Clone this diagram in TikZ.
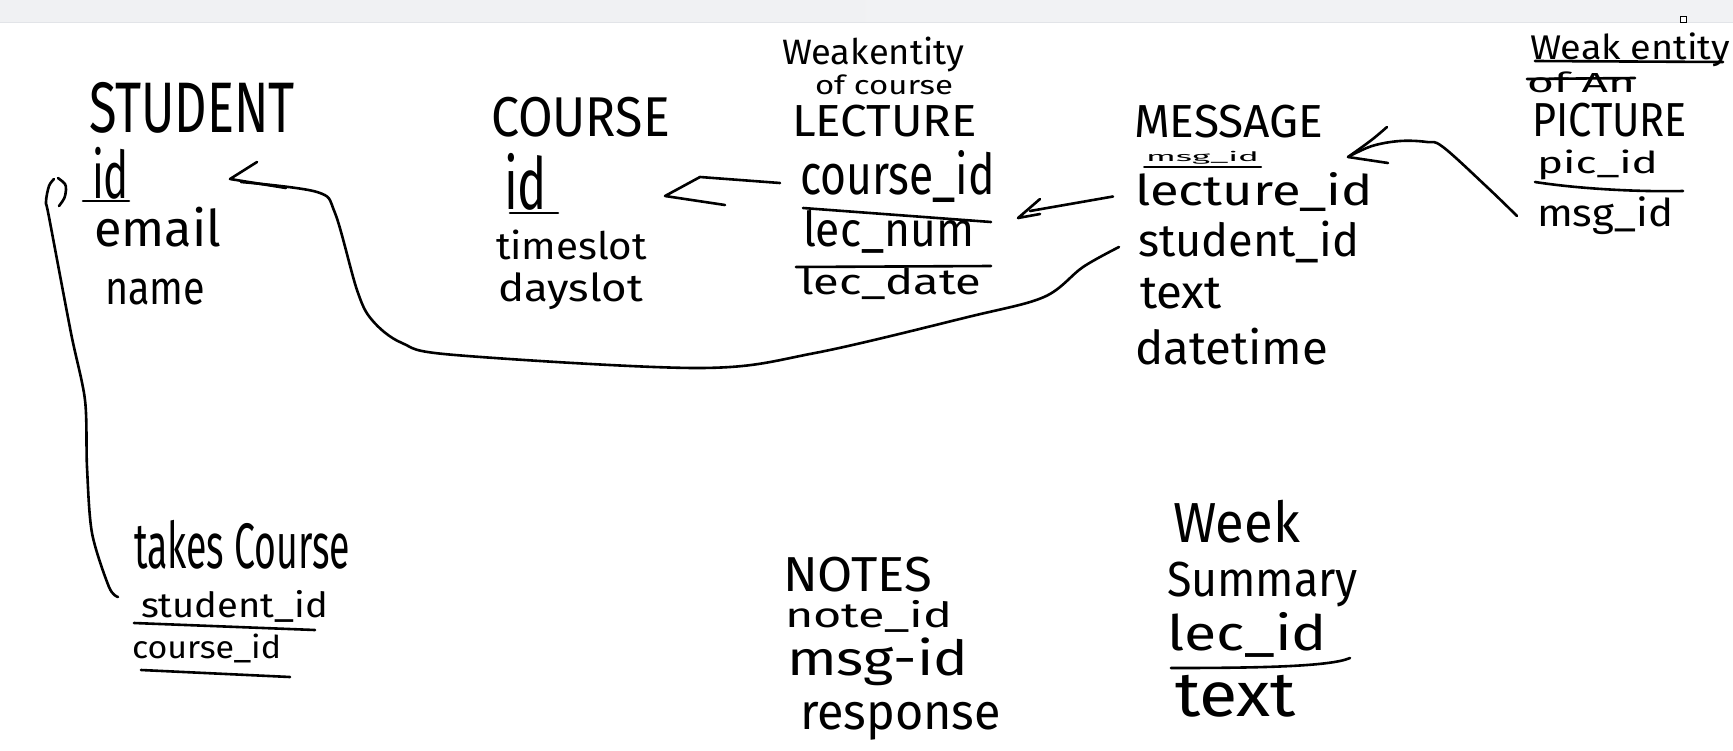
\documentclass[tikz,border=0pt]{standalone}
\usepackage{fontspec}
\usepackage{graphicx}
\usetikzlibrary{calc}
\newfontfamily\hand{Fira Sans}
\newcommand\hw[3]{\resizebox*{#1pt}{#2pt}{\hand #3}}
\definecolor{stripL}{HTML}{F0F1F3}
\definecolor{stripM}{HTML}{ECF1F8}
\definecolor{stripR}{HTML}{F1F2F4}
\definecolor{stripB}{HTML}{E2E4E8}
\tikzset{
  pen/.style={line width=2.6pt, line cap=round, line join=round, black},
  lbl/.style={inner sep=0pt, outer sep=0pt, anchor=north west},
}
\begin{document}
\begin{tikzpicture}[x=1pt,y=-1pt]
\useasboundingbox (0,0) rectangle (1733,750);
\fill[white] (0,0) rectangle (1733,750);
\shade[left color=stripL, middle color=stripM, right color=stripR] (0,0) rectangle (1733,22);
\draw[stripB, line width=1pt] (0,22) -- (1733,22);
\draw[black, fill=white, line width=0.8pt] (1680,16) rectangle (1686,22);

% STUDENT
\node[lbl] (stu) at (89,82) {\hw{206}{51}{STUDENT}};
\node[lbl] (stuid) at (92,147) {\hw{37}{52}{id}};
\node[lbl] (email) at (94,207) {\hw{127}{40}{email}};
\node[lbl] (name) at (105,279) {\hw{100}{26}{name}};
\draw[pen] (83,201) -- (129,201);

% COURSE
\node[lbl] (course) at (491,97) {\hw{179}{40}{COURSE}};
\node[lbl] (crsid) at (504,153) {\hw{43}{57}{id}};
\node[lbl] (timeslot) at (496,230) {\hw{151}{30}{timeslot}};
\node[lbl] (dayslot) at (498,273) {\hw{145}{37}{dayslot}};
\draw[pen] (510,213) -- (558,213);

% LECTURE
\node[lbl] (weak1) at (782,37) {\hw{182}{35}{Weakentity}};
\node[lbl] (ofcourse) at (815,75) {\hw{138}{20}{of course}};
\node[lbl] (lecture) at (792,105) {\hw{185}{32}{LECTURE}};
\node[lbl] (lcid) at (800,150) {\hw{195}{52}{course\_id}};
\node[lbl] (lecnum) at (803,210) {\hw{171}{43}{lec\_num}};
\node[lbl] (lecdate) at (800,268) {\hw{181}{32}{lec\_date}};
\draw[pen] (803,208) -- (991,222);
\draw[pen] (796,267) -- (991,266);

% MESSAGE
\node[lbl] (message) at (1134,105) {\hw{189}{33}{MESSAGE}};
\node[lbl] (msgid) at (1146,151) {\hw{113}{13}{msg\_id}};
\node[lbl] (lectureid) at (1135,172) {\hw{238}{39}{lecture\_id}};
\node[lbl] (studentid) at (1138,221) {\hw{221}{42}{student\_id}};
\node[lbl] (mtext) at (1140,278) {\hw{82}{31}{text}};
\node[lbl] (datetime) at (1135,328) {\hw{193}{37}{datetime}};
\draw[pen, line width=2pt] (1144,167) -- (1261,167);

% PICTURE
\node[lbl] (weak2) at (1530,33) {\hw{200}{34}{Weak entity}};
\node[lbl] (ofan) at (1527,72) {\hw{108}{21}{of An}};
\node[lbl] (picture) at (1532,103) {\hw{155}{34}{PICTURE}};
\node[lbl] (picid) at (1537,150) {\hw{121}{30}{pic\_id}};
\node[lbl] (pmsgid) at (1537,197) {\hw{136}{38}{msg\_id}};
\draw[pen] (1535,61) -- (1723,62);
\draw[pen] (1527,79) -- (1635,78);
\draw[pen] (1535,182) .. controls (1580,189) and (1640,192) .. (1683,191);

% takes Course
\node[lbl] (takes) at (134,520) {\hw{216}{49}{takes Course}};
\node[lbl] (tsid) at (141,590) {\hw{187}{32}{student\_id}};
\node[lbl] (tcid) at (132,634) {\hw{149}{29}{course\_id}};
\draw[pen] (134,623) -- (315,630);
\draw[pen] (141,670) -- (290,677);

% NOTES
\node[lbl] (notes) at (783,557) {\hw{149}{35}{NOTES}};
\node[lbl] (noteid) at (785,600) {\hw{167}{32}{note\_id}};
\node[lbl] (nmsgid) at (787,638) {\hw{181}{48}{msg-id}};
\node[lbl] (response) at (800,702) {\hw{201}{38}{response}};

% Week Summary
\node[lbl] (week) at (1173,500) {\hw{127}{43}{Week}};
\node[lbl] (summary) at (1167,562) {\hw{191}{45}{Summary}};
\node[lbl] (lecid) at (1167,612) {\hw{160}{45}{lec\_id}};
\node[lbl] (stext) at (1175,675) {\hw{121}{42}{text}};
\draw[pen] (1171,668) .. controls (1250,668) and (1330,667) .. (1350,658);

% connector: MESSAGE.student_id -> STUDENT.id
\coordinate (A0) at ($(studentid.west)+(-19,5)$);
\coordinate (tipA) at ($(stuid.east)+(101,6)$);
\draw[pen] plot[smooth, tension=0.55] coordinates {(A0) (1083,267) (1044,297) (968,317) (815,353) (700,368) (455,355) (402,343) (372,320) (357,290) (335,213) (317,192) (241,182)};
\draw[pen] (257,162) -- (tipA) -- (286,188);

% connector: LECTURE.course_id -> COURSE.id
\coordinate (B0) at ($(lcid.west)+(-20,7)$);
\coordinate (tipB) at ($(crsid.east)+(118,14.5)$);
\draw[pen] (B0) -- (700,177) -- (tipB) -- (725,205);

% connector: MESSAGE.lecture_id -> LECTURE
\coordinate (C0) at ($(lectureid.west)+(-22,5)$);
\coordinate (tipC) at ($(lcid.south east)+(23,16)$);
\draw[pen] (C0) -- (1030,211);
\draw[pen] (1040,199) -- (tipC) -- (1040,214);

% connector: PICTURE.msg_id -> MESSAGE
\coordinate (D0) at ($(pmsgid.west)+(-20,0)$);
\coordinate (tipD) at ($(lectureid.north east)+(-25,-15)$);
\draw[pen] plot[smooth, tension=0.6] coordinates {(D0) (1487,187) (1443,147) (1427,142) (1400,141) (1372,146) (tipD)};
\draw[pen] (1387,127) .. controls (1372,140) .. (tipD) -- (1388,163);

% connector: takes Course.student_id -> STUDENT.id
\coordinate (E0) at ($(tsid.west)+(-23,-9)$);
\coordinate (tipE) at ($(stuid.west)+(-33,33)$);
\draw[pen] plot[smooth, tension=0.5] coordinates {(E0) (109,587) (92,533) (87,467) (85,400) (71,333) (49,217) (46,202) (49,186) (54,179)};
\draw[pen] (58,178) .. controls (66,184) .. (66,190) .. controls (65,198) .. (tipE);
\end{tikzpicture}
\end{document}
